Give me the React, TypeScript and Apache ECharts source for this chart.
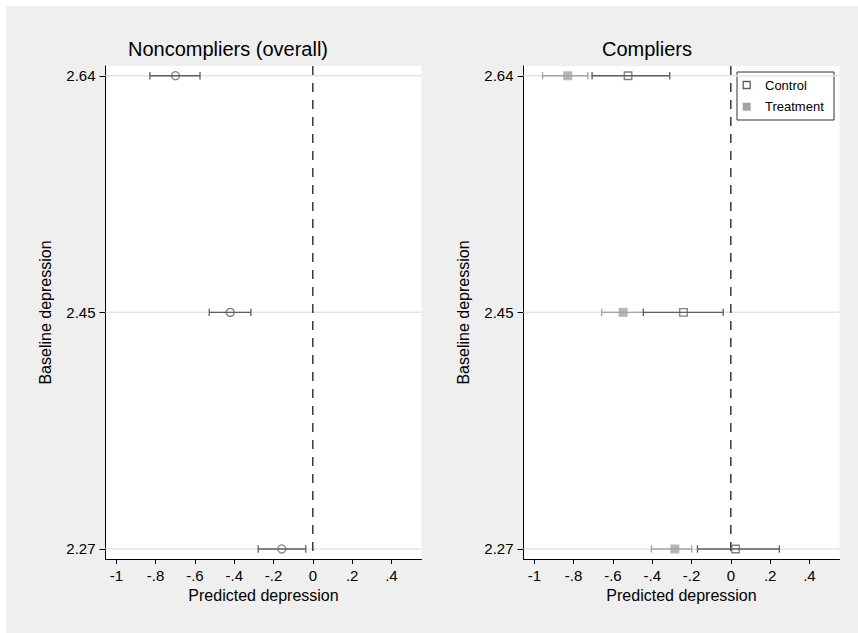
import React, { useEffect, useRef } from 'react';
import * as echarts from 'echarts';

// Baseline depression levels (labels shown rounded to 2 decimals)
const baselineValues = [2.2704, 2.4547, 2.639];
const xTickValues = [-1, -0.8, -0.6, -0.4, -0.2, 0, 0.2, 0.4];
const referenceX = 0;

// Noncompliers (overall)
const nonEst = [-0.158, -0.42, -0.699];
const nonLow = [-0.278, -0.527, -0.829];
const nonHigh = [-0.036, -0.315, -0.574];

// Compliers - Control
const ctrlEst = [0.024, -0.241, -0.523];
const ctrlLow = [-0.17, -0.445, -0.706];
const ctrlHigh = [0.247, -0.039, -0.311];

// Compliers - Treatment
const trtEst = [-0.285, -0.548, -0.83];
const trtLow = [-0.404, -0.657, -0.958];
const trtHigh = [-0.199, -0.445, -0.728];

const FONT = 'Liberation Sans, Arial, Helvetica, sans-serif';
const DARK = '#5f5f5f';
const LIGHT = '#a4a4a4';

const fmtX = (v: number) => {
  if (v === 0) return '0';
  const s = String(Math.round(v * 10) / 10);
  return s.replace('0.', '.');
};

const xAxisFor = (gi: number) => ({
  type: 'value',
  gridIndex: gi,
  min: -1.055,
  max: 0.553,
  name: 'Predicted depression',
  nameLocation: 'middle',
  nameGap: 24,
  nameTextStyle: { fontSize: 16, color: '#000', fontFamily: FONT },
  axisLine: { show: true, onZero: false, lineStyle: { color: '#000', width: 1 } },
  axisTick: { show: true, length: 5, customValues: xTickValues, lineStyle: { color: '#000' } },
  axisLabel: { customValues: xTickValues, formatter: fmtX, fontSize: 15, color: '#000', margin: 9, fontFamily: FONT },
  splitLine: { show: false },
});

const yAxisFor = (gi: number) => ({
  type: 'value',
  gridIndex: gi,
  min: 2.2626,
  max: 2.6466,
  name: 'Baseline depression',
  nameLocation: 'middle',
  nameGap: 52,
  nameRotate: 90,
  nameTextStyle: { fontSize: 16, color: '#000', fontFamily: FONT },
  axisLine: { show: true, onZero: false, lineStyle: { color: '#000', width: 1 } },
  axisTick: { show: true, length: 6, customValues: baselineValues, lineStyle: { color: '#000' } },
  axisLabel: { customValues: baselineValues, formatter: (v: number) => v.toFixed(2), fontSize: 15, color: '#000', margin: 10, fontFamily: FONT },
  splitLine: { show: false },
});

const gridLineSeries = (gi: number) => ({
  type: 'custom',
  xAxisIndex: gi,
  yAxisIndex: gi,
  z: 1,
  silent: true,
  data: baselineValues.map((v) => [referenceX, v]),
  encode: { x: 0, y: 1 },
  renderItem: (params: any, api: any) => {
    const cs = params.coordSys;
    const p = api.coord([api.value(0), api.value(1)]);
    return {
      type: 'line',
      shape: { x1: cs.x, y1: p[1], x2: cs.x + cs.width, y2: p[1] },
      style: { stroke: '#e4e4e4', lineWidth: 1.5 },
    };
  },
});

const zeroLineSeries = (gi: number) => ({
  type: 'custom',
  xAxisIndex: gi,
  yAxisIndex: gi,
  z: 2,
  silent: true,
  data: [[referenceX, baselineValues[1]]],
  encode: { x: 0, y: 1 },
  renderItem: (params: any, api: any) => {
    const cs = params.coordSys;
    const p = api.coord([api.value(0), api.value(1)]);
    return {
      type: 'line',
      shape: { x1: p[0], y1: cs.y, x2: p[0], y2: cs.y + cs.height },
      style: { stroke: '#1a1a1a', lineWidth: 1.3, lineDash: [9, 8] },
    };
  },
});

const errBarSeries = (gi: number, low: number[], high: number[], color: string, z: number) => ({
  type: 'custom',
  xAxisIndex: gi,
  yAxisIndex: gi,
  z,
  silent: true,
  data: low.map((l, i) => [l, high[i], baselineValues[i]]),
  encode: { x: [0, 1], y: 2 },
  renderItem: (params: any, api: any) => {
    const yv = api.value(2);
    const a = api.coord([api.value(0), yv]);
    const b = api.coord([api.value(1), yv]);
    const h = 3.7;
    const style = { stroke: color, lineWidth: 1.3, fill: 'none' };
    return {
      type: 'group',
      children: [
        { type: 'line', shape: { x1: a[0], y1: a[1], x2: b[0], y2: b[1] }, style },
        { type: 'line', shape: { x1: a[0], y1: a[1] - h, x2: a[0], y2: a[1] + h }, style },
        { type: 'line', shape: { x1: b[0], y1: b[1] - h, x2: b[0], y2: b[1] + h }, style },
      ],
    };
  },
});

const pointSeries = (gi: number, est: number[], symbol: string, size: number, itemStyle: any, name: string) => ({
  type: 'scatter',
  name,
  xAxisIndex: gi,
  yAxisIndex: gi,
  z: 5,
  symbol,
  symbolSize: size,
  itemStyle,
  data: est.map((v, i) => [v, baselineValues[i]]),
});

export default function App() {
  const ref = useRef<HTMLDivElement>(null);
  useEffect(() => {
    if (!ref.current) return;
    const chart = echarts.init(ref.current, null, { renderer: 'svg' });
    chart.setOption({
      animation: false,
      backgroundColor: '#efefef',
      textStyle: { fontFamily: FONT },
      title: [
        { text: 'Noncompliers (overall)', left: 222, top: 33, textAlign: 'center', padding: 0, textStyle: { fontSize: 20, fontWeight: 'normal', color: '#000', fontFamily: FONT } },
        { text: 'Compliers', left: 641, top: 33, textAlign: 'center', padding: 0, textStyle: { fontSize: 20, fontWeight: 'normal', color: '#000', fontFamily: FONT } },
      ],
      grid: [
        { left: 99.5, top: 60, width: 316, height: 493, show: true, backgroundColor: '#fff', borderWidth: 0 },
        { left: 517.5, top: 60, width: 316, height: 493, show: true, backgroundColor: '#fff', borderWidth: 0 },
      ],
      xAxis: [xAxisFor(0), xAxisFor(1)],
      yAxis: [yAxisFor(0), yAxisFor(1)],
      series: [
        gridLineSeries(0),
        gridLineSeries(1),
        zeroLineSeries(0),
        zeroLineSeries(1),
        errBarSeries(0, nonLow, nonHigh, DARK, 3),
        errBarSeries(1, trtLow, trtHigh, LIGHT, 3),
        errBarSeries(1, ctrlLow, ctrlHigh, DARK, 4),
        pointSeries(0, nonEst, 'circle', 8, { color: 'rgba(0,0,0,0)', borderColor: DARK, borderWidth: 1.3 }, 'Noncompliers'),
        pointSeries(1, trtEst, 'rect', 9, { color: LIGHT }, 'Treatment'),
        pointSeries(1, ctrlEst, 'rect', 7.5, { color: 'rgba(0,0,0,0)', borderColor: DARK, borderWidth: 1.3 }, 'Control'),
      ],
      graphic: [
        {
          type: 'group',
          x: 731,
          y: 66,
          z: 100,
          children: [
            { type: 'rect', shape: { x: 0, y: 0, width: 97, height: 48 }, style: { fill: '#fff', stroke: '#333', lineWidth: 1 } },
            { type: 'rect', shape: { x: 6.2, y: 9.5, width: 7, height: 7 }, style: { fill: 'none', stroke: DARK, lineWidth: 1.3 } },
            { type: 'text', x: 28, y: 13, style: { text: 'Control', fontSize: 13, fill: '#000', verticalAlign: 'middle', fontFamily: FONT } },
            { type: 'rect', shape: { x: 5.7, y: 30.7, width: 8, height: 8 }, style: { fill: LIGHT, stroke: 'none' } },
            { type: 'text', x: 28, y: 34.7, style: { text: 'Treatment', fontSize: 13, fill: '#000', verticalAlign: 'middle', fontFamily: FONT } },
          ],
        },
      ],
    });
    return () => chart.dispose();
  }, []);
  return (
    <div style={{ position: 'absolute', left: 0, top: 0, width: 858, height: 633, background: '#fff' }}>
      <div ref={ref} style={{ position: 'absolute', left: 6, top: 6, width: 852, height: 627 }} />
    </div>
  );
}
